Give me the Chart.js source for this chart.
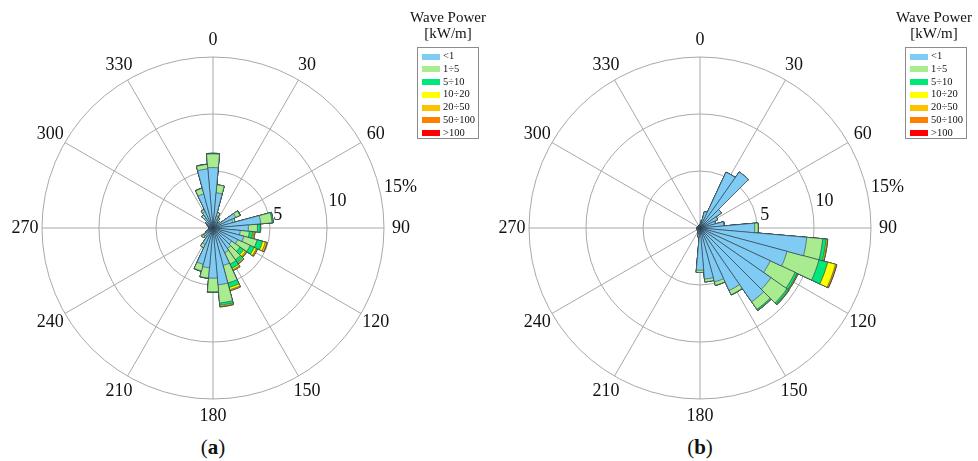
<!DOCTYPE html>
<html>
<head>
<meta charset="utf-8">
<script src="https://cdn.jsdelivr.net/npm/chart.js@4"></script>
<style>
  body { margin: 0; background: #fff; font-family: "Liberation Serif", serif; color: #111; }
  #page { position: relative; width: 978px; height: 461px; overflow: hidden; }
  .rose { position: absolute; top: 27px; width: 470px; height: 402px; }
  .cap { position: absolute; top: 434px; width: 60px; margin-left: -30px; text-align: center; font-size: 21px; line-height: 26px; }
  .lgTitle { position: absolute; top: 9px; width: 110px; margin-left: -55px; text-align: center; font-size: 15px; line-height: 16px; }
  .lgBox { position: absolute; top: 47px; width: 62px; height: 92px; border: 1px solid #8c8c8c; padding-top: 2px; box-sizing: border-box; background: #fff; }
  .lgRow { position: relative; height: 12.8px; font-size: 10.5px; line-height: 12.8px; }
  .lgRow .sw { position: absolute; left: 4px; top: 3.5px; width: 18px; height: 6px; }
  .lgRow .tx { position: absolute; left: 25px; top: 0; }
</style>
</head>
<body>
<div id="page">
  <div class="rose" style="left:-22px"><canvas id="roseA"></canvas></div>
  <div class="rose" style="left:465px"><canvas id="roseB"></canvas></div>
  <div class="cap" style="left:213px">(<b>a</b>)</div>
  <div class="cap" style="left:700px">(<b>b</b>)</div>
  <div class="lgTitle" style="left:448px">Wave Power<br>[kW/m]</div>
  <div class="lgBox" id="legA" style="left:417px"></div>
  <div class="lgTitle" style="left:934px">Wave Power<br>[kW/m]</div>
  <div class="lgBox" id="legB" style="left:905px"></div>
</div>
<script>
// directions of the 10 degree bins
const directions = [0, 10, 20, 30, 40, 50, 60, 70, 80, 90, 100, 110, 120, 130, 140, 150, 160, 170,
  180, 190, 200, 210, 220, 230, 240, 250, 260, 270, 280, 290, 300, 310, 320, 330, 340, 350];
const dirTicks = ['0', '30', '60', '90', '120', '150', '180', '210', '240', '270', '300', '330'];
const radialTicks = [5, 10, 15];
const radialTickText = ['5', '10', '15%'];
const powerClasses = ['<1', '1÷5', '5÷10', '10÷20', '20÷50', '50÷100', '>100'];
const classColors = ['#80cbf3', '#a9eb8f', '#00e87a', '#ffff00', '#ffc000', '#ff8000', '#ff0000'];

// (a) frequency % per direction and wave power class
const aLt1 = [5.3, 3.1, 1.1, 0.8, 0.5, 0.7, 2.2, 1.8, 4.2, 3.1, 2.4, 2.8, 2.4, 2.0, 2.2, 2.4, 3.4, 5.0,
  4.4, 3.5, 3.3, 1.6, 0.9, 1.0, 0.6, 0.4, 0.3, 0.3, 0.3, 0.4, 0.5, 0.7, 1.1, 1.6, 3.1, 5.2];
const a1to5 = [1.2, 0.7, 0.3, 0.2, 0.1, 0.1, 0.4, 0.2, 1.0, 0.8, 0.8, 1.2, 1.2, 0.9, 1.2, 1.1, 1.6, 1.6,
  1.2, 0.9, 0.6, 0.3, 0.2, 0.2, 0.1, 0.05, 0.05, 0.05, 0.05, 0.05, 0.1, 0.1, 0.3, 0.2, 0.5, 0.4];
const a5to10 = [0.05, 0, 0, 0, 0, 0, 0.05, 0, 0.1, 0.25, 0.3, 0.5, 0.4, 0.4, 0.3, 0.4, 0.4, 0.2,
  0.05, 0.03, 0.03, 0, 0, 0, 0, 0, 0, 0, 0, 0, 0, 0, 0, 0, 0.02, 0.02];
const a10to20 = [0, 0, 0, 0, 0, 0, 0, 0, 0, 0.03, 0.1, 0.25, 0.2, 0.2, 0.1, 0.15, 0.2, 0.1,
  0, 0, 0, 0, 0, 0, 0, 0, 0, 0, 0, 0, 0, 0, 0, 0, 0, 0];
const a20to50 = [0, 0, 0, 0, 0, 0, 0, 0, 0, 0, 0.1, 0.15, 0.1, 0.12, 0.05, 0.08, 0.1, 0.05,
  0, 0, 0, 0, 0, 0, 0, 0, 0, 0, 0, 0, 0, 0, 0, 0, 0, 0];
const a50to100 = [0, 0, 0, 0, 0, 0, 0, 0, 0, 0, 0, 0.03, 0.03, 0.03, 0, 0, 0, 0,
  0, 0, 0, 0, 0, 0, 0, 0, 0, 0, 0, 0, 0, 0, 0, 0, 0, 0];
const aGt100 = directions.map(() => 0);

// (b)
const bLt1 = [0.3, 0.6, 1.5, 5.4, 6.0, 2.3, 1.7, 1.4, 2.1, 4.8, 9.4, 7.9, 6.8, 7.6, 7.9, 6.05, 4.9, 4.5,
  3.7, 0.8, 0.5, 0.4, 0.3, 0.3, 0.3, 0.3, 0.3, 0.3, 0.2, 0.2, 0.2, 0.2, 0.2, 0.2, 0.2, 0.2];
const b1to5 = [0, 0, 0, 0, 0, 0, 0, 0, 0.05, 0.3, 1.4, 2.9, 2.4, 1.7, 0.8, 0.4, 0.3, 0.25,
  0.2, 0, 0, 0, 0, 0, 0, 0, 0, 0, 0, 0, 0, 0, 0, 0, 0, 0];
const b5to10 = [0, 0, 0, 0, 0, 0, 0, 0, 0, 0, 0.3, 0.8, 0.2, 0.15, 0.1, 0.03, 0.02, 0,
  0, 0, 0, 0, 0, 0, 0, 0, 0, 0, 0, 0, 0, 0, 0, 0, 0, 0];
const b10to20 = [0, 0, 0, 0, 0, 0, 0, 0, 0, 0, 0.1, 0.7, 0.05, 0.05, 0.03, 0, 0, 0,
  0, 0, 0, 0, 0, 0, 0, 0, 0, 0, 0, 0, 0, 0, 0, 0, 0, 0];
const b20to50 = [0, 0, 0, 0, 0, 0, 0, 0, 0, 0, 0.05, 0.1, 0.05, 0.03, 0, 0, 0, 0,
  0, 0, 0, 0, 0, 0, 0, 0, 0, 0, 0, 0, 0, 0, 0, 0, 0, 0];
const b50to100 = [0, 0, 0, 0, 0, 0, 0, 0, 0, 0, 0, 0.03, 0, 0, 0, 0, 0, 0,
  0, 0, 0, 0, 0, 0, 0, 0, 0, 0, 0, 0, 0, 0, 0, 0, 0, 0];
const bGt100 = directions.map(() => 0);

// 72 spokes of 5 deg, shifted by -5 deg so each 10 deg bin is centred on its direction
const spokeLabels = [];
for (let i = 0; i < 72; i++) {
  spokeLabels.push((i - 1) % 6 === 0 ? dirTicks[(i - 1) / 6] : '');
}

// cumulative sums, outer classes drawn first
const stackUp = (series) => {
  let run = directions.map(() => 0);
  return series.map(s => run = run.map((v, i) => v + s[i]));
};

// direction labels centred on their spokes, % labels along ~76 deg
const roseTextPlugin = {
  id: 'roseText',
  afterDatasetsDraw(chart) {
    const sc = chart.scales.r;
    const ctx = chart.ctx;
    const ang = 76 * Math.PI / 180;
    ctx.save();
    ctx.font = '18px "Liberation Serif"';
    ctx.fillStyle = '#111';
    ctx.textBaseline = 'middle';
    ctx.textAlign = 'center';
    dirTicks.forEach((t, m) => {
      const p = sc.getPointPosition(1 + 6 * m, sc.drawingArea + 17);
      ctx.fillText(t, p.x, p.y);
    });
    ctx.textAlign = 'left';
    radialTicks.forEach((v, i) => {
      const d = sc.getDistanceFromCenterForValue(v);
      ctx.fillText(radialTickText[i], sc.xCenter + d * Math.sin(ang) + 5, sc.yCenter - d * Math.cos(ang) + 1);
    });
    ctx.restore();
  }
};

const makeRose = (id, series) => {
  const stacked = stackUp(series);
  new Chart(id, {
    type: 'polarArea',
    data: {
      datasets: stacked.map((d, k) => ({
        label: powerClasses[k],
        data: d,
        backgroundColor: classColors[k],
        borderColor: '#2e3a4a',
        borderWidth: 0.6
      }))
    },
    options: {
      animation: false,
      responsive: true,
      maintainAspectRatio: false,
      layout: { padding: 30 },
      plugins: { legend: { display: false }, tooltip: { enabled: false } },
      scales: {
        r: {
          labels: spokeLabels,
          startAngle: -5,
          min: 0,
          max: 15,
          ticks: { display: false, stepSize: 5 },
          grid: { circular: true, color: '#a8a8a8', lineWidth: 1 },
          angleLines: { display: true, color: '#a8a8a8', lineWidth: (ctx) => ctx.label ? 1 : 0 },
          pointLabels: { display: false }
        }
      }
    },
    plugins: [roseTextPlugin]
  });
};

makeRose('roseA', [aLt1, a1to5, a5to10, a10to20, a20to50, a50to100, aGt100]);
makeRose('roseB', [bLt1, b1to5, b5to10, b10to20, b20to50, b50to100, bGt100]);

const fillLegend = (id) => {
  const box = document.getElementById(id);
  powerClasses.forEach((name, k) => {
    const row = document.createElement('div');
    row.className = 'lgRow';
    const sw = document.createElement('span');
    sw.className = 'sw';
    sw.style.background = classColors[k];
    const tx = document.createElement('span');
    tx.className = 'tx';
    tx.innerText = name;
    row.appendChild(sw);
    row.appendChild(tx);
    box.appendChild(row);
  });
};
fillLegend('legA');
fillLegend('legB');
</script>
</body>
</html>
